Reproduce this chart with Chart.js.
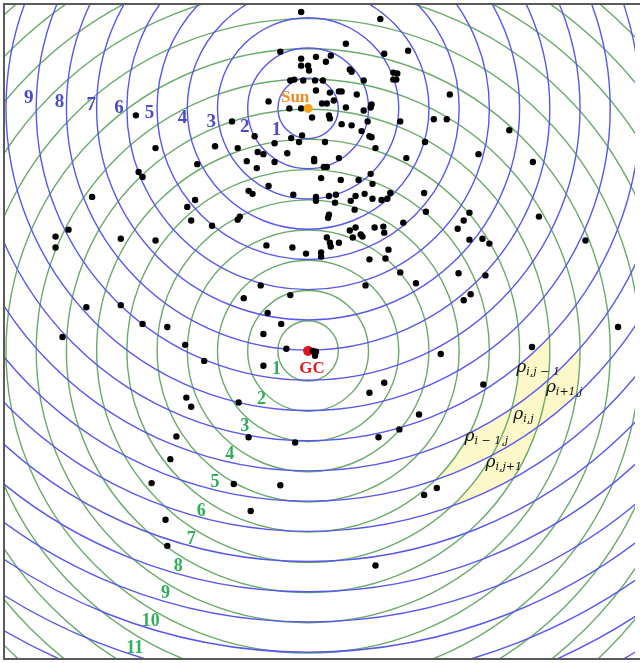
<!DOCTYPE html>
<html>
<head>
<meta charset="utf-8">
<script src="https://cdn.jsdelivr.net/npm/chart.js@4"></script>
<style>
  html, body { margin: 0; padding: 0; background: #fff; }
  #wrap { width: 640px; height: 663px; }
</style>
</head>
<body>
<div id="wrap"><canvas id="map"></canvas></div>
<script>
// Galactocentric frame in kpc, GC at origin, Sun 8 kpc "up"
const sunPos = [0, 8];
const gcPos = [0, 0];

// ring radii (kpc) around the Sun (blue) and around the GC (green)
const sunRings = [1, 2, 3, 4, 5, 6, 7, 8, 9, 10, 11, 12, 13, 14, 15, 16, 17, 18, 19, 20, 21];
const gcRings = [1, 2, 3, 4, 5, 6, 7, 8, 9, 10, 11, 12, 13, 14, 15, 16];

// labelled rings and where their numbers sit
const sunRingLabels = ['1', '2', '3', '4', '5', '6', '7', '8', '9'];
const sunRingLabelPos = [[-1.05, 7.28], [-2.10, 7.38], [-3.21, 7.54], [-4.16, 7.67], [-5.25, 7.84],
  [-6.26, 8.00], [-7.18, 8.10], [-8.23, 8.20], [-9.25, 8.33]];
const gcRingLabels = ['1', '2', '3', '4', '5', '6', '7', '8', '9', '10', '11'];
const gcRingLabelPos = [[-1.05, -0.62], [-1.54, -1.61], [-2.10, -2.49], [-2.59, -3.41], [-3.08, -4.33],
  [-3.54, -5.28], [-3.87, -6.20], [-4.30, -7.11], [-4.72, -8.00], [-5.21, -8.92], [-5.74, -9.80]];

// stencil cells east of the GC: [gc inner, gc outer, sun inner, sun outer]
const stencilCells = [[7, 8, 11, 14], [6, 9, 12, 13]];
const stencilLabels = [
  { sub: 'i,j − 1', pos: [6.89, -0.69] },
  { sub: 'i+1,j', pos: [7.87, -1.34] },
  { sub: 'i,j', pos: [6.79, -2.26] },
  { sub: 'i − 1,j', pos: [5.18, -2.98] },
  { sub: 'i,j+1', pos: [5.87, -3.84] },
];

// catalogue positions (x, y) in kpc
const stars = [
  [-0.23, 11.18], [2.39, 10.95], [1.25, 10.13], [-0.92, 9.87], [3.31, 9.90], [2.52, 9.80], [0.75, 9.74],
  [0.26, 9.70], [-0.23, 9.64], [0.59, 9.54], [-0.23, 9.41], [0.00, 9.41], [0.03, 9.25], [1.38, 9.28],
  [1.44, 9.21], [2.82, 9.18], [2.95, 9.15], [2.82, 8.95], [2.92, 8.95], [-0.59, 8.92], [-0.46, 8.95],
  [-0.16, 8.92], [0.23, 8.92], [0.49, 8.92], [1.84, 8.92], [0.26, 8.59], [0.72, 8.52], [1.02, 8.56],
  [1.11, 8.56], [1.61, 8.46], [4.69, 8.46], [-1.31, 8.23], [0.46, 8.16], [0.62, 8.16], [0.85, 8.26],
  [2.10, 8.13], [2.07, 8.03], [-0.62, 8.00], [-0.23, 8.00], [1.25, 8.03], [1.84, 7.93], [-5.70, 7.77],
  [0.13, 7.70], [0.69, 7.77], [0.72, 7.67], [1.97, 7.57], [3.05, 7.57], [4.16, 7.64], [4.59, 7.64],
  [-2.52, 7.57], [1.11, 7.48], [1.44, 7.44], [1.77, 7.25], [6.66, 7.28],
  [-0.20, 7.11], [-0.56, 7.02], [-0.30, 6.89], [-1.11, 6.85], [-1.77, 7.08], [-2.33, 6.69], [-3.08, 6.75],
  [-1.67, 6.56], [-1.48, 6.49], [-0.69, 6.52], [0.20, 6.33], [0.20, 6.26], [-2.03, 6.26], [-1.11, 6.23],
  [-1.70, 6.03], [0.56, 6.89], [2.03, 7.08], [2.10, 7.05], [2.23, 6.69], [3.87, 6.89], [5.64, 6.49],
  [7.44, 6.23], [3.25, 6.36], [1.02, 6.36], [0.52, 6.07], [0.62, 6.07], [0.43, 5.70], [2.07, 5.84],
  [1.08, 5.64], [1.67, 5.64], [2.13, 5.51], [-3.67, 6.16], [-5.05, 6.69], [-5.61, 5.90], [-5.48, 5.74],
  [-1.31, 5.44], [-1.97, 5.28], [-1.84, 5.18], [-0.49, 5.15], [0.26, 5.08], [0.26, 4.95], [3.84, 5.21],
  [2.72, 5.21], [2.62, 5.02], [2.43, 4.98], [1.87, 5.18], [1.57, 5.11], [0.92, 5.15], [0.69, 5.11],
  [1.41, 4.95], [2.13, 5.02], [0.89, 4.89], [1.54, 4.66], [0.69, 4.49], [0.66, 4.39], [3.90, 4.59],
  [5.34, 4.56], [5.15, 4.30], [3.15, 4.23], [4.95, 4.03], [7.64, 4.43], [1.38, 3.97], [1.57, 4.07],
  [1.48, 3.74], [1.74, 3.84], [1.80, 3.77], [2.20, 4.07], [2.49, 4.10], [2.52, 3.90], [0.62, 3.74],
  [0.72, 3.57], [1.02, 3.57], [0.75, 3.44], [-3.74, 4.98], [-4.00, 4.75], [-3.87, 4.30], [-2.33, 4.33],
  [-2.26, 4.43], [-3.18, 4.13], [-7.15, 5.08], [-7.93, 4.00], [-8.36, 3.77], [-8.36, 3.41], [-6.20, 3.70],
  [-5.05, 3.64], [-1.38, 3.48], [-0.52, 3.41], [-0.07, 3.21], [0.43, 3.25], [0.43, 3.11], [5.34, 3.67],
  [5.77, 3.70], [6.00, 3.54], [9.18, 3.64], [2.66, 3.34], [2.56, 3.05], [2.03, 3.02], [3.05, 2.59],
  [4.98, 2.56], [5.87, 2.49], [3.57, 2.23], [1.90, 2.16], [5.38, 1.87], [5.15, 1.67], [-1.57, 2.16],
  [-2.13, 1.74], [-0.59, 1.84], [-1.34, 1.25], [-0.89, 0.89], [-7.34, 1.44], [-6.20, 1.51], [-5.48, 0.89],
  [-4.66, 0.79], [10.26, 0.79], [-8.13, 0.46], [-4.07, 0.20], [-3.44, -0.33], [-1.48, 0.56], [-0.72, 0.07],
  [0.16, 0.00], [0.26, -0.03], [0.23, -0.16], [-1.48, -0.49], [-4.03, -1.54], [-3.87, -1.84], [-2.30, -1.70],
  [-4.36, -2.82], [-1.97, -2.85], [-0.43, -3.02], [-4.56, -3.57], [-5.18, -4.36], [-2.46, -4.39],
  [-0.92, -4.43], [-1.90, -5.28], [-4.72, -5.57], [-4.66, -6.43], [4.39, -0.10], [7.41, 0.13],
  [2.52, -1.05], [2.03, -1.38], [5.80, -1.11], [3.67, -2.10], [3.02, -2.59], [2.33, -2.85], [4.26, -4.52],
  [3.84, -4.75], [2.23, -7.08],
];

const pt = (p) => ({ x: p[0], y: p[1] });

const ringsPlugin = {
  id: 'rings',
  beforeDatasetsDraw(chart) {
    const { ctx, chartArea: a, scales: { x, y } } = chart;
    const rad = (r) => x.getPixelForValue(r) - x.getPixelForValue(0);
    const sx = x.getPixelForValue(sunPos[0]), sy = y.getPixelForValue(sunPos[1]);
    const gx = x.getPixelForValue(gcPos[0]), gy = y.getPixelForValue(gcPos[1]);
    const annulus = (cx, cy, r0, r1) => {
      ctx.beginPath();
      ctx.moveTo(cx + rad(r1), cy);
      ctx.arc(cx, cy, rad(r1), 0, Math.PI * 2);
      ctx.moveTo(cx + rad(r0), cy);
      ctx.arc(cx, cy, rad(r0), 0, Math.PI * 2);
    };

    ctx.save();
    ctx.beginPath();
    ctx.rect(a.left, a.top, a.right - a.left, a.bottom - a.top);
    ctx.clip();

    // shaded stencil, east side only
    ctx.fillStyle = '#fdf8c9';
    stencilCells.forEach(([g0, g1, s0, s1]) => {
      ctx.save();
      ctx.beginPath();
      ctx.rect(gx, a.top, a.right - gx, a.bottom - a.top);
      ctx.clip();
      annulus(gx, gy, g0, g1);
      ctx.clip('evenodd');
      annulus(sx, sy, s0, s1);
      ctx.fill('evenodd');
      ctx.restore();
    });

    ctx.lineWidth = 1.4;
    ctx.strokeStyle = '#6aaa6a';
    gcRings.forEach((r) => {
      ctx.beginPath();
      ctx.arc(gx, gy, rad(r), 0, Math.PI * 2);
      ctx.stroke();
    });
    ctx.strokeStyle = '#5757ee';
    sunRings.forEach((r) => {
      ctx.beginPath();
      ctx.arc(sx, sy, rad(r), 0, Math.PI * 2);
      ctx.stroke();
    });
    ctx.restore();
  },
  afterDatasetsDraw(chart) {
    const { ctx, chartArea: a, scales: { x, y } } = chart;
    const at = (p) => [x.getPixelForValue(p[0]), y.getPixelForValue(p[1])];
    ctx.save();
    ctx.textAlign = 'center';
    ctx.textBaseline = 'middle';

    ctx.font = 'bold 19px "Liberation Serif", serif';
    ctx.fillStyle = '#4b4bc6';
    sunRingLabels.forEach((t, i) => {
      const [px, py] = at(sunRingLabelPos[i]);
      ctx.fillText(t, px, py);
    });

    ctx.font = 'bold 18px "Liberation Serif", serif';
    ctx.fillStyle = '#2fae5c';
    gcRingLabels.forEach((t, i) => {
      const [px, py] = at(gcRingLabelPos[i]);
      ctx.fillText(t, px, py);
    });

    ctx.font = 'bold 17px "Liberation Serif", serif';
    ctx.fillStyle = '#f28a24';
    let [px, py] = at([sunPos[0] - 0.43, sunPos[1] + 0.36]);
    ctx.fillText('Sun', px, py);

    ctx.font = 'bold 17px "Liberation Serif", serif';
    ctx.fillStyle = '#e3191c';
    [px, py] = at([gcPos[0] + 0.13, gcPos[1] - 0.59]);
    ctx.fillText('GC', px, py);

    // density symbols of the stencil
    ctx.textAlign = 'left';
    ctx.textBaseline = 'alphabetic';
    ctx.fillStyle = '#111';
    stencilLabels.forEach(({ sub, pos }) => {
      const [lx, ly] = at(pos);
      ctx.font = 'italic 17px "DejaVu Serif", serif';
      ctx.fillText('ρ', lx, ly);
      const w = ctx.measureText('ρ').width;
      ctx.font = 'italic 11px "DejaVu Serif", serif';
      ctx.fillText(sub, lx + w, ly + 3);
    });

    // frame
    ctx.strokeStyle = '#5a5a5a';
    ctx.lineWidth = 2;
    ctx.strokeRect(a.left - 1, a.top - 1, a.right - a.left + 10, a.bottom - a.top + 2);
    ctx.restore();
  },
};

new Chart(document.getElementById('map'), {
  type: 'scatter',
  data: {
    datasets: [
      { label: 'Sun', data: [pt(sunPos)], pointRadius: 4.5, backgroundColor: '#f9a11b', borderWidth: 0 },
      { label: 'Stars', data: stars.map(pt), pointRadius: 3.2, backgroundColor: '#000', borderWidth: 0 },
      { label: 'GC', data: [pt(gcPos)], pointRadius: 5, backgroundColor: '#e5141c', borderWidth: 0 },
    ],
  },
  options: {
    responsive: true,
    maintainAspectRatio: false,
    animation: false,
    layout: { padding: { left: 4, top: 4, right: 0, bottom: 2 } },
    scales: {
      x: { type: 'linear', display: false, min: -10.033, max: 10.82 },
      y: { type: 'linear', display: false, min: -10.13, max: 11.41 },
    },
    plugins: {
      legend: { display: false },
      tooltip: { enabled: false },
    },
  },
  plugins: [ringsPlugin],
});
</script>
</body>
</html>
